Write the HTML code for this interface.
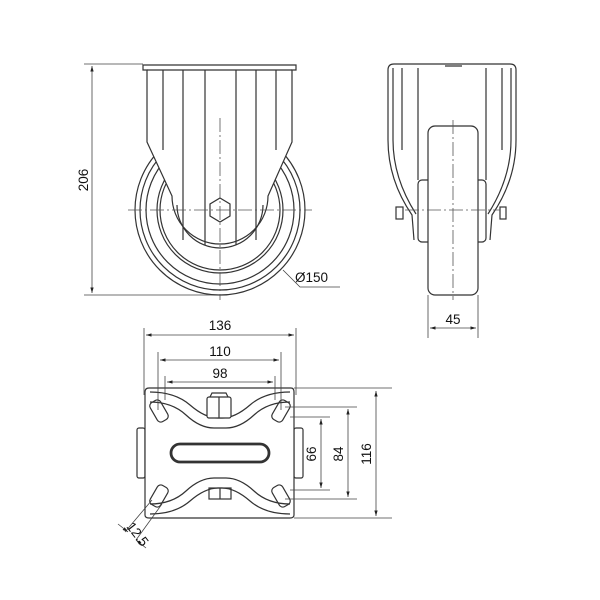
<!DOCTYPE html>
<html><head><style>
html,body{margin:0;padding:0;background:#fff;}
svg{display:block;}
text{font-family:"Liberation Sans",sans-serif;font-size:13.5px;fill:#111;}
</style></head><body>
<svg width="600" height="600" viewBox="0 0 600 600" xmlns="http://www.w3.org/2000/svg">
<defs>
<marker id="a" viewBox="0 0 10 10" refX="10" refY="5" markerWidth="7" markerHeight="7" orient="auto-start-reverse"><path d="M0,2 L10,5 L0,8 z" fill="#222"/></marker>
</defs>
<g fill="none" stroke="#333" stroke-width="1.2">
<!-- FRONT VIEW -->
<circle cx="220" cy="210" r="85"/>
<circle cx="220" cy="210" r="80"/>
<circle cx="220" cy="210" r="74"/>
<circle cx="220" cy="210" r="63"/>
<circle cx="220" cy="210" r="60"/>
<path d="M143,65 L296,65 L296,70 L292,70 L292,142 L268,196 A48,48 0 0 1 172,196 L147,142 L147,70 L143,70 Z" fill="#fff"/>
<path d="M177,205 A43,43 0 0 0 263,205" />
<path d="M163,70 V150 M183,70 V240 M205,70 V245 M236,70 V245 M256,70 V240 M276,70 V150"/>
<path d="M147,70 H292"/>
<polygon points="220,198 230,204 230,216 220,222 210,216 210,204" fill="#fff"/>
</g>
<g stroke="#555" stroke-width="0.8" fill="none" stroke-dasharray="14,3,2,3">
<path d="M128,210 H312 M220,118 V300"/>
</g>
<g stroke="#444" stroke-width="0.8" fill="none">
<path d="M84,64 H143 M84,295 H220"/>
<line x1="92" y1="66" x2="92" y2="293" marker-start="url(#a)" marker-end="url(#a)"/>
<path d="M283,270 L300,287 H340"/>
</g>
<text x="88" y="180" transform="rotate(-90 88 180)" text-anchor="middle">206</text>
<text x="295" y="282">Ø150</text>

<!-- SIDE VIEW -->
<g fill="none" stroke="#333" stroke-width="1.2">
<path d="M394,64 H510 Q516,64 516,70 V140 Q516,180 492,215 L490,240"/>
<path d="M394,64 Q388,64 388,70 V140 Q388,180 412,215 L414,240"/>
<path d="M393,68 V140 Q393,178 416,214 M511,68 V140 Q511,178 488,214"/>
<path d="M402,68 V150 M502,68 V150 M418,68 V180 M486,68 V180"/>
<rect x="418" y="180" width="68" height="62" rx="4" fill="#fff"/>
<rect x="428" y="126" width="50" height="169" rx="7" fill="#fff"/>
<path d="M445,66 H462"/>
<rect x="396" y="207" width="7" height="12"/>
<rect x="500" y="207" width="6" height="12"/>
</g>
<g stroke="#555" stroke-width="0.8" fill="none" stroke-dasharray="14,3,2,3">
<path d="M405,210 H500 M453,120 V300"/>
</g>
<g stroke="#444" stroke-width="0.8" fill="none">
<path d="M428,295 V338 M478,295 V338"/>
<line x1="430" y1="328" x2="476" y2="328" marker-start="url(#a)" marker-end="url(#a)"/>
</g>
<text x="453" y="324" text-anchor="middle">45</text>

<!-- BOTTOM VIEW -->
<g fill="none" stroke="#333" stroke-width="1.2">
<rect x="137" y="428" width="8" height="50" rx="2"/>
<rect x="294" y="428" width="9" height="50" rx="2"/>
<path d="M149,388 H291 Q294,388 294,392 V515 Q294,518 290,518 H149 Q145,518 145,515 V392 Q145,388 149,388 Z" fill="#fff"/>
<path d="M150,392 Q175,392 190,405 Q205,418 218,418 H222 Q235,418 250,405 Q265,392 290,392"/>
<path d="M150,402 Q172,402 186,415 Q200,428 214,428 H226 Q240,428 254,415 Q268,402 290,402"/>
<path d="M150,514 Q175,514 190,501 Q205,488 218,488 H222 Q235,488 250,501 Q265,514 290,514"/>
<path d="M150,504 Q172,504 186,491 Q200,478 214,478 H226 Q240,478 254,491 Q268,504 290,504"/>
<rect x="207" y="397" width="24" height="21" rx="2" fill="#fff"/>
<path d="M219,397 V418 M210,397 L212,393 H226 L228,397"/>
<rect x="209" y="488" width="22" height="11"/>
<path d="M220,488 V499"/>
<rect x="153" y="400" width="12" height="22" rx="4" transform="rotate(-30 159 411)"/>
<rect x="275" y="400" width="12" height="22" rx="4" transform="rotate(30 281 411)"/>
<rect x="153" y="485" width="12" height="22" rx="4" transform="rotate(30 159 496)"/>
<rect x="275" y="485" width="12" height="22" rx="4" transform="rotate(-30 281 496)"/>
<rect x="171" y="444" width="98" height="18" rx="9" stroke-width="2.8"/>
</g>
<g stroke="#444" stroke-width="0.8" fill="none">
<path d="M144,328 V395 M296,328 V395 M158,352 V410 M281,352 V410 M165,376 V400 M275,376 V400"/>
<line x1="146" y1="335" x2="294" y2="335" marker-start="url(#a)" marker-end="url(#a)"/>
<line x1="160" y1="360" x2="279" y2="360" marker-start="url(#a)" marker-end="url(#a)"/>
<line x1="167" y1="382" x2="273" y2="382" marker-start="url(#a)" marker-end="url(#a)"/>
<path d="M294,388 H392 M294,518 H392 M285,407 H357 M285,499 H357 M290,417 H330 M290,490 H330"/>
<line x1="376" y1="391" x2="376" y2="516" marker-start="url(#a)" marker-end="url(#a)"/>
<line x1="348" y1="409" x2="348" y2="497" marker-start="url(#a)" marker-end="url(#a)"/>
<line x1="321" y1="419" x2="321" y2="488" marker-start="url(#a)" marker-end="url(#a)"/>
<path d="M152,500 L125,532 M162,504 L136,540"/>
<line x1="118" y1="524" x2="128" y2="532" marker-end="url(#a)"/>
<line x1="146" y1="548" x2="136" y2="540" marker-end="url(#a)"/>
</g>
<text x="220" y="330" text-anchor="middle">136</text>
<text x="220" y="356" text-anchor="middle">110</text>
<text x="220" y="378" text-anchor="middle">98</text>
<text x="316" y="454" transform="rotate(-90 316 454)" text-anchor="middle">66</text>
<text x="343" y="454" transform="rotate(-90 343 454)" text-anchor="middle">84</text>
<text x="371" y="454" transform="rotate(-90 371 454)" text-anchor="middle">116</text>
<text x="134" y="537" transform="rotate(52 134 537)" text-anchor="middle">12.5</text>
</svg>
</body></html>
